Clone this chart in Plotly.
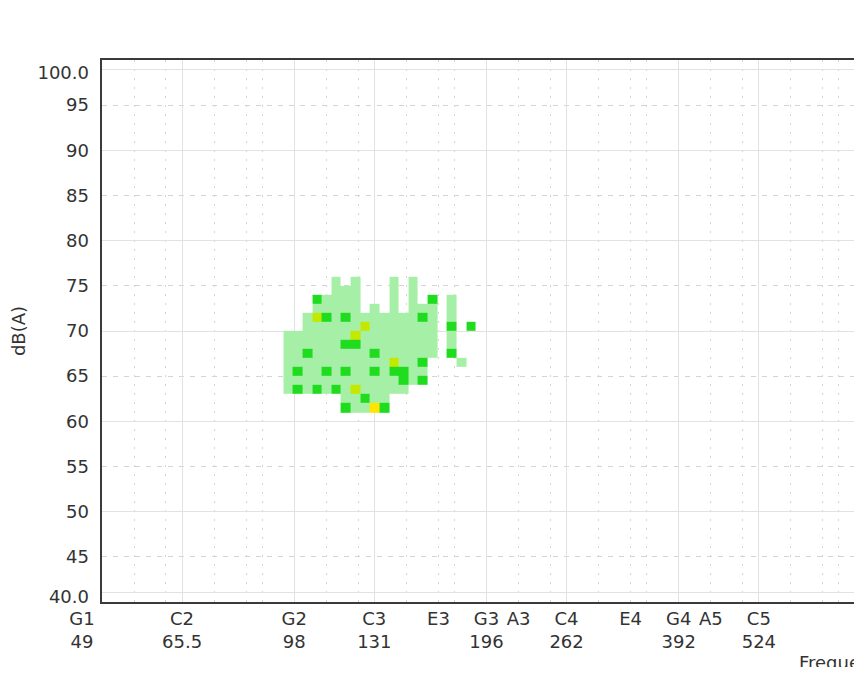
import numpy as np
import plotly.graph_objects as go

# ---------------- data ----------------
# frequency bins (Hz) of the heat-map columns
freq_bins_hz = [95.9, 99.2, 102.7, 106.4, 110.1, 114.0, 118.0, 122.2, 126.5, 131.0,
                135.6, 140.4, 145.4, 150.5, 155.8, 161.3, 167.0, 172.9, 179.0, 185.3]
# level bins dB(A), top row first
level_bins_db = [75.5, 74.5, 73.5, 72.5, 71.5, 70.5, 69.5, 68.5,
                 67.5, 66.5, 65.5, 64.5, 63.5, 62.5, 61.5]
# occurrence class per cell: . none, L low, G medium, Y high, O highest
cell_rows = [
    ".....L.L...L.L......",
    ".....LLL...L.L......",
    "...GLLLL...L.L.G.L..",
    "...LLLLL.L.L.LLL.L..",
    "..LYGLGLLLLLLLGL.L..",
    "..LLLLLLYLLLLLLL.G.G",
    "LLLLLLLYLLLLLLLL.L..",
    "LLLLLLGGLLLLLLLL.L..",
    "LLGLLLLLLGLLLLLL.G..",
    "LLLLLLLLLLLYLLG...L.",
    "LGLLGLGLLGLGGLL.....",
    "LLLLLLLLLLLLGLG.....",
    "LGLGLGLYLLLLL.......",
    "......LLGLL.........",
    "......GLLOG.........",
]
class_codes = {".": None, "L": 1, "G": 2, "Y": 3, "O": 4}

# x tick labels (note name, frequency)
note_names = ["G1", "C2", "G2", "C3", "E3", "G3", "A3", "C4", "E4", "G4", "A5", "C5"]
note_hz = [49.0, 65.4, 98.0, 130.8, 164.8, 196.0, 220.0, 261.6, 329.6, 392.0, 440.0, 523.3]
note_hz_text = ["49", "65.5", "98", "131", "", "196", "", "262", "", "392", "", "524"]

# grid notes: solid at C and G, dotted at the other natural notes
grid_solid_hz = [49.0, 65.4, 98.0, 130.8, 196.0, 261.6, 392.0, 523.3]
grid_dot_hz = [55.0, 61.7, 73.4, 82.4, 87.3, 110.0, 123.5, 146.8, 164.8, 174.6,
               220.0, 246.9, 293.7, 329.6, 349.2, 440.0, 493.9, 587.3, 659.3, 698.5]

# y ticks
y_tick_vals = [40.6, 45, 50, 55, 60, 65, 70, 75, 80, 85, 90, 95, 98.6]
y_tick_text = ["40.0", "45", "50", "55", "60", "65", "70", "75", "80", "85", "90", "95", "100.0"]
y_grid_solid = [41.0, 50, 60, 70, 80, 90, 98.9]
y_grid_dash = [45, 55, 65, 75, 85, 95]

x_range_hz = [49.0, 759.0]
y_range = [40, 100]

# colors
c_low = "#a6efa6"
c_mid = "#1fdc1f"
c_high = "#c4e800"
c_top = "#ffe600"


def semis(hz):
    return 69 + 12 * np.log2(np.asarray(hz, dtype=float) / 440.0)


z = [[class_codes[ch] for ch in row] for row in cell_rows]

fig = go.Figure()
fig.add_trace(go.Heatmap(
    x=semis(freq_bins_hz), y=level_bins_db, z=z,
    zmin=0.5, zmax=4.5,
    colorscale=[[0, c_low], [0.25, c_low], [0.25, c_mid], [0.5, c_mid],
                [0.5, c_high], [0.75, c_high], [0.75, c_top], [1, c_top]],
    showscale=False, hoverinfo="skip",
))
# empty trace to create the label overlay axes
fig.add_trace(go.Scatter(x=[], y=[], xaxis="x2", yaxis="y2", showlegend=False, hoverinfo="skip"))

font = dict(family="DejaVu Sans", size=18, color="#333333")
xr = list(semis(x_range_hz))

pad = "\u00a0" * 7
x_ticktext = []
for i, (n, t) in enumerate(zip(note_names, note_hz_text)):
    if i == 0:
        x_ticktext.append(n + pad + "<br>" + t + pad)
    else:
        x_ticktext.append(n + "<br>" + (t if t else "\u00a0"))

W, H = 854, 659
ML, MT = 94, 52
PLOT_BOTTOM = 594
fig.update_layout(
    width=W, height=H,
    margin=dict(l=ML, r=0, t=MT, b=H - PLOT_BOTTOM, autoexpand=False),
    paper_bgcolor="white", plot_bgcolor="white",
    font=font, template="none", showlegend=False,
    xaxis=dict(
        range=xr, tickmode="array", tickvals=list(semis(grid_solid_hz)),
        showticklabels=False, ticks="", showgrid=True, gridcolor="#e2e2e2", gridwidth=1,
        minor=dict(tickmode="array", tickvals=list(semis(grid_dot_hz)), showgrid=True,
                   gridcolor="#d4d4d4", griddash="2px,7px", gridwidth=1, ticks=""),
        zeroline=False, showline=True, linecolor="#3a3a3a", linewidth=2, mirror=True,
    ),
    yaxis=dict(
        range=y_range, tickmode="array", tickvals=y_grid_solid,
        showticklabels=False, ticks="", showgrid=True, gridcolor="#e2e2e2", gridwidth=1,
        minor=dict(tickmode="array", tickvals=y_grid_dash, showgrid=True,
                   gridcolor="#d4d4d4", griddash="5px,6px", gridwidth=1, ticks=""),
        zeroline=False, showline=True, linecolor="#3a3a3a", linewidth=2, mirror=False,
    ),
    xaxis2=dict(
        overlaying="x", anchor="y2", side="bottom", range=xr,
        tickmode="array", tickvals=list(semis(note_hz)), ticktext=x_ticktext,
        ticks="", showgrid=False, zeroline=False, showline=False,
        tickfont=font, ticklabelstandoff=4,
    ),
    yaxis2=dict(
        overlaying="y", anchor="x2", side="left", range=y_range,
        tickmode="array", tickvals=y_tick_vals, ticktext=y_tick_text,
        ticks="", showgrid=False, zeroline=False, showline=False,
        tickfont=font, ticklabelstandoff=12,
        title=dict(text="dB(A)", font=font, standoff=10),
    ),
    annotations=[dict(
        text="Frequency (Hz)", xref="paper", yref="paper",
        x=(789 - ML) / float(W - ML), y=(PLOT_BOTTOM - 654) / float(PLOT_BOTTOM - MT),
        xanchor="left", yanchor="middle", showarrow=False, font=font,
    )],
)

fig.write_html("out.html", config={"displayModeBar": False})
